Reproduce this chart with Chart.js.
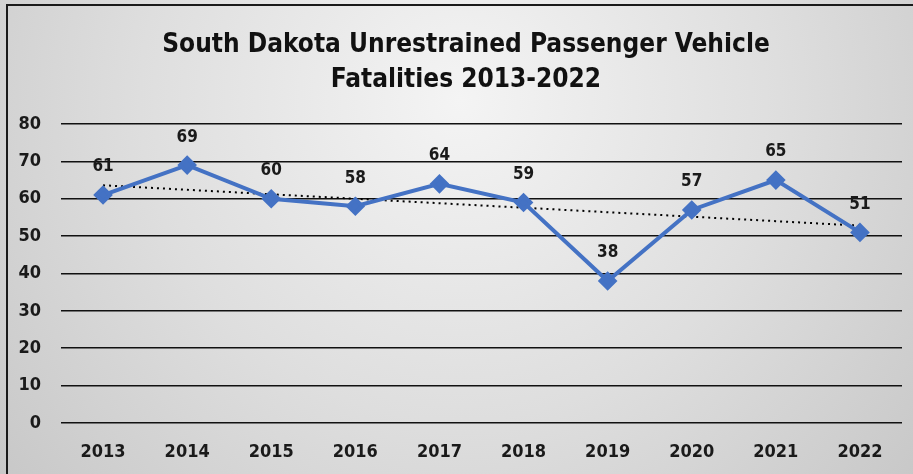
<!DOCTYPE html>
<html>
<head>
<meta charset="utf-8">
<script src="https://cdn.jsdelivr.net/npm/chart.js@4/dist/chart.umd.min.js"></script>
<style>
    html, body { margin: 0; padding: 0; background: #ffffff; }
    #wrap { width: 913px; height: 474px; }
</style>
</head>
<body>
<div id="wrap"><canvas id="fatalChart" width="913" height="474"></canvas></div>
<script>

/* =========================================
   DATA
========================================= */

const years = ["2013", "2014", "2015", "2016", "2017", "2018", "2019", "2020", "2021", "2022"];
const fatalities = [61, 69, 60, 58, 64, 59, 38, 57, 65, 51];
const titleLines = ["South Dakota Unrestrained Passenger Vehicle", "Fatalities 2013-2022"];

const FONT = "'Liberation Sans Narrow', 'DejaVu Sans Condensed', 'Open Sans', sans-serif";


/* =========================================
   HELPERS
========================================= */

// linear trend line (least squares) like Excel's trendline
function linearTrend(values) {

    const n = values.length;
    let sx = 0, sy = 0, sxy = 0, sxx = 0;

    values.forEach((y, x) => {
        sx += x;
        sy += y;
        sxy += x * y;
        sxx += x * x;
    });

    const slope = (n * sxy - sx * sy) / (n * sxx - sx * sx);
    const icpt = (sy - slope * sx) / n;

    return values.map((y, x) => icpt + slope * x);
}


/* =========================================
   PLUGINS
========================================= */

const backgroundPlugin = {
    id: "bgPlugin",
    beforeDraw(chart) {
        const c = chart.ctx;
        const w = chart.width, h = chart.height;
        c.save();
        const g = c.createRadialGradient(460, 100, 0, 460, 100, 640);
        g.addColorStop(0, "#f4f4f4");
        g.addColorStop(0.5, "#dedede");
        g.addColorStop(1, "#c4c4c4");
        c.fillStyle = g;
        c.fillRect(0, 0, w, h);

        // frame (left + top visible)
        c.strokeStyle = "#1a1a1a";
        c.lineWidth = 2;
        c.beginPath();
        c.moveTo(7, h);
        c.lineTo(7, 5);
        c.lineTo(w, 5);
        c.stroke();

        // title
        c.font = "bold 26px " + FONT;
        c.fillStyle = "#111111";
        c.textAlign = "center";
        c.textBaseline = "middle";
        c.fillText(titleLines[0], 466, 45);
        c.fillText(titleLines[1], 466, 80);
        c.restore();
    }
};

const dataLabelPlugin = {
    id: "valueLabels",
    afterDatasetsDraw(chart) {
        const c = chart.ctx;
        const meta = chart.getDatasetMeta(0);
        c.save();
        c.font = "bold 17px " + FONT;
        c.fillStyle = "#1a1a1a";
        c.textAlign = "center";
        c.textBaseline = "middle";
        meta.data.forEach((pt, i) => {
            c.fillText(String(fatalities[i]), pt.x, pt.y - 28);
        });
        c.restore();
    }
};


/* =========================================
   CHART
========================================= */

const ctx = document.getElementById("fatalChart").getContext("2d");

new Chart(ctx, {

    type: "line",

    data: {
        labels: years,
        datasets: [
            {
                label: "Fatalities",
                data: fatalities,
                borderColor: "#4472C4",
                backgroundColor: "#4472C4",
                borderWidth: 4,
                pointStyle: "rectRot",
                pointRadius: 7,
                pointHoverRadius: 7,
                tension: 0,
                order: 1
            },
            {
                label: "Trend",
                data: linearTrend(fatalities),
                borderColor: "#000000",
                borderWidth: 2,
                borderDash: [2, 4],
                pointRadius: 0,
                fill: false,
                order: 2
            }
        ]
    },

    options: {

        responsive: false,
        animation: false,
        devicePixelRatio: 1,

        layout: {
            padding: { top: 124, left: 0, right: 3, bottom: 0 }
        },

        plugins: {
            legend: { display: false },
            tooltip: { enabled: false },
            title: { display: false }
        },

        scales: {

            x: {
                offset: true,
                grid: { display: false, drawTicks: false, offset: true },
                border: { display: false },
                ticks: {
                    color: "#1a1a1a",
                    padding: 19,
                    maxRotation: 0,
                    font: { family: FONT, size: 18, weight: "bold" }
                },
                afterFit(scale) { scale.height = 51; }
            },

            y: {
                min: 0,
                max: 80,
                grid: { color: "#111111", lineWidth: 1.6, drawTicks: false },
                border: { display: false },
                ticks: {
                    stepSize: 10,
                    color: "#1a1a1a",
                    padding: 20,
                    font: { family: FONT, size: 18, weight: "bold" }
                },
                afterFit(scale) { scale.width = 61; }
            }

        }

    },

    plugins: [backgroundPlugin, dataLabelPlugin]

});

</script>
</body>
</html>
